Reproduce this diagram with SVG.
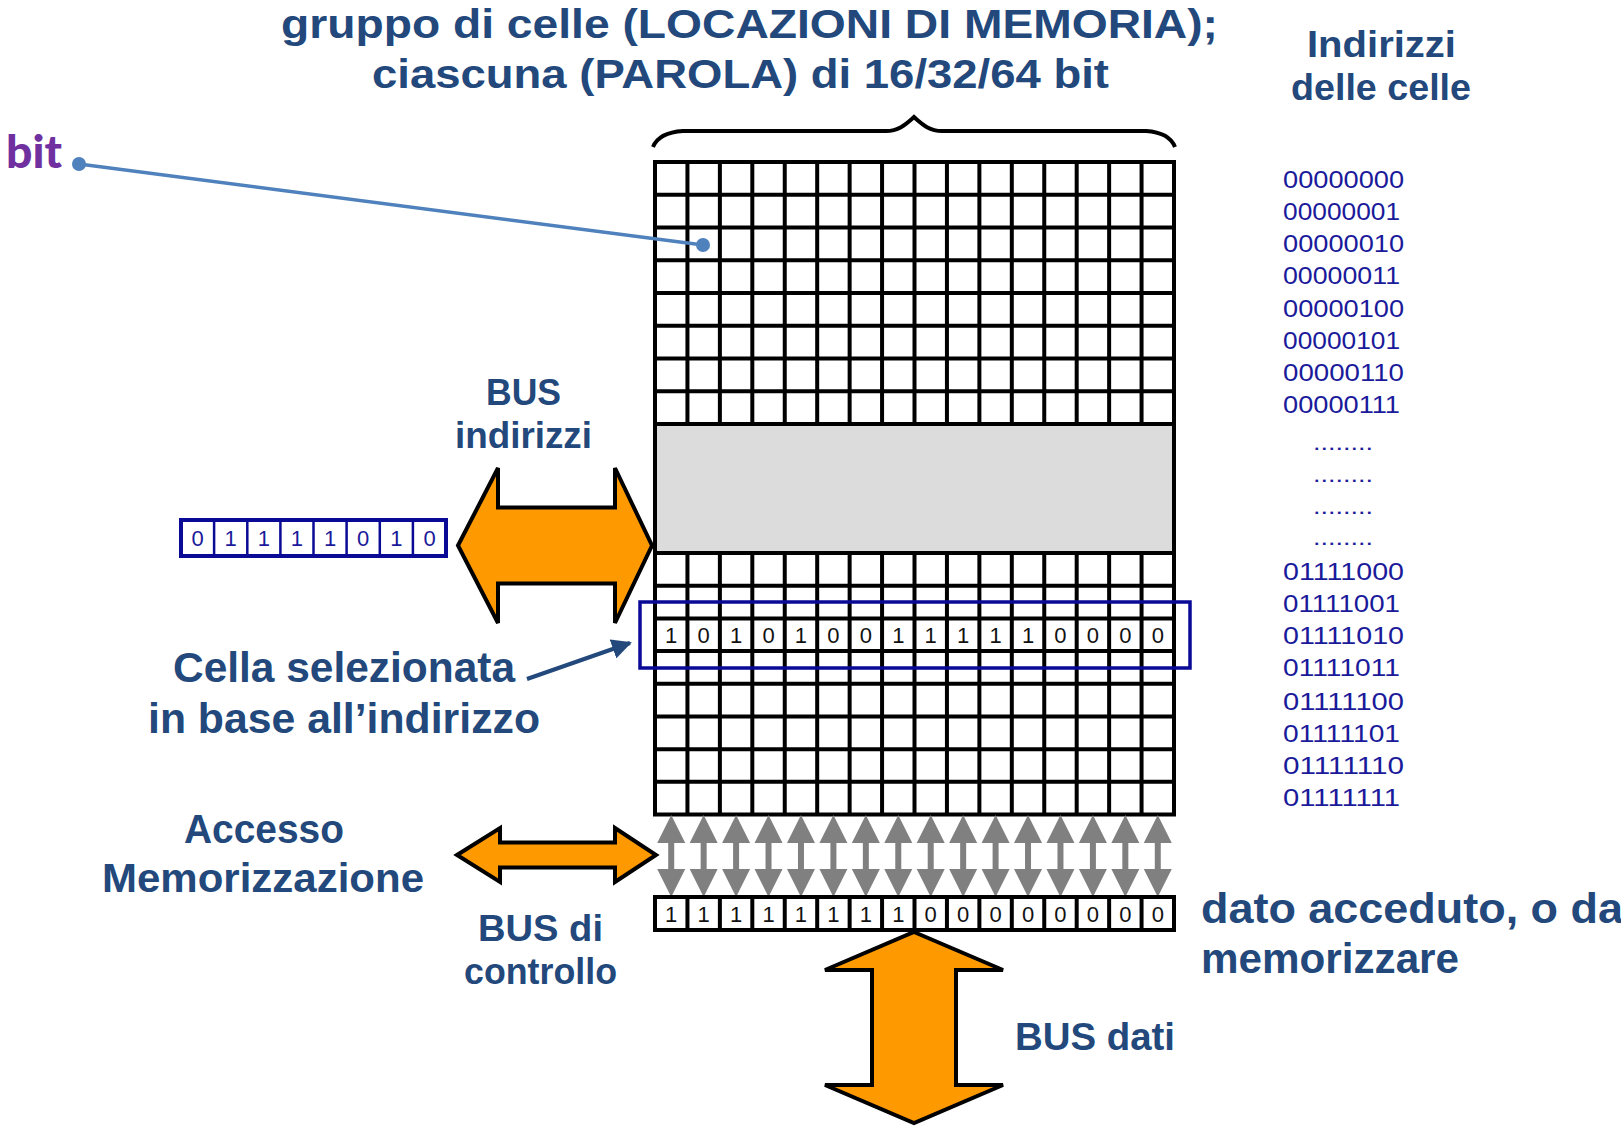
<svg xmlns="http://www.w3.org/2000/svg" width="1621" height="1128" viewBox="0 0 1621 1128">
  <style>
    .lbl { font-family: "Liberation Sans", Arial, sans-serif; font-weight: 700; fill: #22487c; }
    .grid { stroke: #000; stroke-width: 4; fill: none; }
    .cellnum { font-family: "Liberation Sans", Arial, sans-serif; font-size: 22px; fill: #111; text-anchor: middle; }
    .addr { font-family: "Liberation Sans", Arial, sans-serif; font-size: 24px; fill: #1a1a9a; }
    .dots { font-family: "Liberation Sans", Arial, sans-serif; font-size: 22px; fill: #1a1a9a; }
    .bus { fill: #ff9900; stroke: #000; stroke-width: 4; stroke-linejoin: miter; }
  </style>
  <defs>
    <!-- single double-headed gray arrow between a memory column and the data register -->
    <path id="cellArrow" d="M0,815 L14,843 L3,843 L3,869 L14,869 L0,897 L-14,869 L-3,869 L-3,843 L-14,843 Z" fill="#808080"/>
    <marker id="head" viewBox="0 0 10 10" refX="9" refY="5" markerWidth="5" markerHeight="5" orient="auto" markerUnits="strokeWidth">
      <path d="M0,0 L10,5 L0,10 Z" fill="#22487c"/>
    </marker>
  </defs>

  <rect width="1621" height="1128" fill="#fff"/>

  <!-- titles -->
  <g id="title">
    <text class="lbl" x="281" y="38" font-size="40" textLength="937" lengthAdjust="spacingAndGlyphs">gruppo di celle (LOCAZIONI DI MEMORIA);</text>
    <text class="lbl" x="372" y="88" font-size="40" textLength="737" lengthAdjust="spacingAndGlyphs">ciascuna (PAROLA) di 16/32/64 bit</text>
  </g>
  <g id="addr-title">
    <text class="lbl" x="1307" y="57" font-size="37" textLength="149" lengthAdjust="spacingAndGlyphs">Indirizzi</text>
    <text class="lbl" x="1291" y="100" font-size="37" textLength="180" lengthAdjust="spacingAndGlyphs">delle celle</text>
  </g>

  <!-- brace over the word width -->
  <path id="brace" d="M653,147 C657,137 667,132 683,131 L886,131 C899,131 906,124 914,117 C922,124 929,131 942,131 L1146,131 C1162,132 1171,137 1175,147" fill="none" stroke="#000" stroke-width="4"/>

  <!-- memory array -->
  <g id="memory">
    <rect x="655" y="162" width="519" height="652.5" fill="#fff"/>
    <g class="grid">
      <rect x="655" y="162" width="519" height="652.5"/>
      <path d="M687.44,162V814.5 M719.88,162V814.5 M752.31,162V814.5 M784.75,162V814.5 M817.19,162V814.5 M849.63,162V814.5 M882.06,162V814.5 M914.5,162V814.5 M946.94,162V814.5 M979.38,162V814.5 M1011.81,162V814.5 M1044.25,162V814.5 M1076.69,162V814.5 M1109.13,162V814.5 M1141.56,162V814.5"/>
      <path d="M655,194.75H1174 M655,227.5H1174 M655,260.25H1174 M655,293H1174 M655,325.75H1174 M655,358.5H1174 M655,391.25H1174"/>
      <path d="M655,585.69H1174 M655,618.38H1174 M655,651.06H1174 M655,683.75H1174 M655,716.44H1174 M655,749.13H1174 M655,781.81H1174"/>
    </g>
    <rect x="655" y="424" width="519" height="129" fill="#dcdcdc" stroke="#000" stroke-width="4"/>
    <!-- contents of the selected word -->
    <g id="selected-word">
      <text class="cellnum" x="671.22" y="643">1</text>
      <text class="cellnum" x="703.66" y="643">0</text>
      <text class="cellnum" x="736.09" y="643">1</text>
      <text class="cellnum" x="768.53" y="643">0</text>
      <text class="cellnum" x="800.97" y="643">1</text>
      <text class="cellnum" x="833.41" y="643">0</text>
      <text class="cellnum" x="865.84" y="643">0</text>
      <text class="cellnum" x="898.28" y="643">1</text>
      <text class="cellnum" x="930.72" y="643">1</text>
      <text class="cellnum" x="963.16" y="643">1</text>
      <text class="cellnum" x="995.59" y="643">1</text>
      <text class="cellnum" x="1028.03" y="643">1</text>
      <text class="cellnum" x="1060.47" y="643">0</text>
      <text class="cellnum" x="1092.91" y="643">0</text>
      <text class="cellnum" x="1125.34" y="643">0</text>
      <text class="cellnum" x="1157.78" y="643">0</text>
    </g>
    <rect x="640" y="602" width="550" height="66" fill="none" stroke="#0a0a96" stroke-width="3.5"/>
  </g>

  <!-- per-bit read/write arrows -->
  <g id="bit-lines">
    <use href="#cellArrow" x="671.22"/>
    <use href="#cellArrow" x="703.66"/>
    <use href="#cellArrow" x="736.09"/>
    <use href="#cellArrow" x="768.53"/>
    <use href="#cellArrow" x="800.97"/>
    <use href="#cellArrow" x="833.41"/>
    <use href="#cellArrow" x="865.84"/>
    <use href="#cellArrow" x="898.28"/>
    <use href="#cellArrow" x="930.72"/>
    <use href="#cellArrow" x="963.16"/>
    <use href="#cellArrow" x="995.59"/>
    <use href="#cellArrow" x="1028.03"/>
    <use href="#cellArrow" x="1060.47"/>
    <use href="#cellArrow" x="1092.91"/>
    <use href="#cellArrow" x="1125.34"/>
    <use href="#cellArrow" x="1157.78"/>
  </g>

  <!-- data register -->
  <g id="data-register">
    <rect x="655" y="897" width="519" height="33" fill="#fff"/>
    <g class="grid">
      <rect x="655" y="897" width="519" height="33"/>
      <path d="M687.44,897V930 M719.88,897V930 M752.31,897V930 M784.75,897V930 M817.19,897V930 M849.63,897V930 M882.06,897V930 M914.5,897V930 M946.94,897V930 M979.38,897V930 M1011.81,897V930 M1044.25,897V930 M1076.69,897V930 M1109.13,897V930 M1141.56,897V930"/>
    </g>
    <text class="cellnum" x="671.22" y="922">1</text>
    <text class="cellnum" x="703.66" y="922">1</text>
    <text class="cellnum" x="736.09" y="922">1</text>
    <text class="cellnum" x="768.53" y="922">1</text>
    <text class="cellnum" x="800.97" y="922">1</text>
    <text class="cellnum" x="833.41" y="922">1</text>
    <text class="cellnum" x="865.84" y="922">1</text>
    <text class="cellnum" x="898.28" y="922">1</text>
    <text class="cellnum" x="930.72" y="922">0</text>
    <text class="cellnum" x="963.16" y="922">0</text>
    <text class="cellnum" x="995.59" y="922">0</text>
    <text class="cellnum" x="1028.03" y="922">0</text>
    <text class="cellnum" x="1060.47" y="922">0</text>
    <text class="cellnum" x="1092.91" y="922">0</text>
    <text class="cellnum" x="1125.34" y="922">0</text>
    <text class="cellnum" x="1157.78" y="922">0</text>
  </g>

  <!-- address register -->
  <g id="address-register">
    <rect x="181" y="520" width="265" height="36" fill="#fff" stroke="#0a0a96" stroke-width="4"/>
    <path d="M214.1,520V556 M247.3,520V556 M280.4,520V556 M313.5,520V556 M346.6,520V556 M379.8,520V556 M412.9,520V556" stroke="#0a0a96" stroke-width="2.5"/>
    <g class="cellnum" style="fill:#1a1a9a">
      <text x="197.6" y="546">0</text>
      <text x="230.7" y="546">1</text>
      <text x="263.8" y="546">1</text>
      <text x="296.9" y="546">1</text>
      <text x="330.1" y="546">1</text>
      <text x="363.2" y="546">0</text>
      <text x="396.3" y="546">1</text>
      <text x="429.5" y="546">0</text>
    </g>
  </g>

  <!-- cell addresses -->
  <g id="addresses">
    <text class="addr" x="1283" y="188" textLength="121" lengthAdjust="spacingAndGlyphs">00000000</text>
    <text class="addr" x="1283" y="220" textLength="117" lengthAdjust="spacingAndGlyphs">00000001</text>
    <text class="addr" x="1283" y="252" textLength="121" lengthAdjust="spacingAndGlyphs">00000010</text>
    <text class="addr" x="1283" y="284" textLength="117" lengthAdjust="spacingAndGlyphs">00000011</text>
    <text class="addr" x="1283" y="317" textLength="121" lengthAdjust="spacingAndGlyphs">00000100</text>
    <text class="addr" x="1283" y="349" textLength="117" lengthAdjust="spacingAndGlyphs">00000101</text>
    <text class="addr" x="1283" y="381" textLength="121" lengthAdjust="spacingAndGlyphs">00000110</text>
    <text class="addr" x="1283" y="413" textLength="117" lengthAdjust="spacingAndGlyphs">00000111</text>
    <text class="dots" x="1313" y="450" textLength="60" lengthAdjust="spacingAndGlyphs">........</text>
    <text class="dots" x="1313" y="482" textLength="60" lengthAdjust="spacingAndGlyphs">........</text>
    <text class="dots" x="1313" y="514" textLength="60" lengthAdjust="spacingAndGlyphs">........</text>
    <text class="dots" x="1313" y="545" textLength="60" lengthAdjust="spacingAndGlyphs">........</text>
    <text class="addr" x="1283" y="580" textLength="121" lengthAdjust="spacingAndGlyphs">01111000</text>
    <text class="addr" x="1283" y="612" textLength="117" lengthAdjust="spacingAndGlyphs">01111001</text>
    <text class="addr" x="1283" y="644" textLength="121" lengthAdjust="spacingAndGlyphs">01111010</text>
    <text class="addr" x="1283" y="676" textLength="117" lengthAdjust="spacingAndGlyphs">01111011</text>
    <text class="addr" x="1283" y="710" textLength="121" lengthAdjust="spacingAndGlyphs">01111100</text>
    <text class="addr" x="1283" y="742" textLength="117" lengthAdjust="spacingAndGlyphs">01111101</text>
    <text class="addr" x="1283" y="774" textLength="121" lengthAdjust="spacingAndGlyphs">01111110</text>
    <text class="addr" x="1283" y="806" textLength="117" lengthAdjust="spacingAndGlyphs">01111111</text>
  </g>

  <!-- buses -->
  <g id="bus-indirizzi">
    <polygon class="bus" points="458,545.5 498,468 498,507.5 615,507.5 615,468 652,545.5 615,623 615,583.5 498,583.5 498,623"/>
    <text class="lbl" x="486" y="405" font-size="37" textLength="75" lengthAdjust="spacingAndGlyphs">BUS</text>
    <text class="lbl" x="455" y="448" font-size="37" textLength="137" lengthAdjust="spacingAndGlyphs">indirizzi</text>
  </g>
  <g id="bus-controllo">
    <polygon class="bus" points="457,855 500,828 500,842.5 615,842.5 615,828 656,855 615,882 615,867.5 500,867.5 500,882"/>
    <text class="lbl" x="184" y="843" font-size="41" textLength="160" lengthAdjust="spacingAndGlyphs">Accesso</text>
    <text class="lbl" x="102" y="892" font-size="41" textLength="322" lengthAdjust="spacingAndGlyphs">Memorizzazione</text>
    <text class="lbl" x="478" y="941" font-size="37" textLength="125" lengthAdjust="spacingAndGlyphs">BUS di</text>
    <text class="lbl" x="464" y="984" font-size="37" textLength="153" lengthAdjust="spacingAndGlyphs">controllo</text>
  </g>
  <g id="bus-dati">
    <polygon class="bus" points="914,932 1003,970 956,970 956,1085 1003,1085 914,1123 825,1085 872,1085 872,970 825,970"/>
    <text class="lbl" x="1015" y="1050" font-size="38" textLength="160" lengthAdjust="spacingAndGlyphs">BUS dati</text>
  </g>

  <g id="data-label">
    <text class="lbl" x="1201" y="923" font-size="42" textLength="422" lengthAdjust="spacingAndGlyphs">dato acceduto, o da</text>
    <text class="lbl" x="1201" y="973" font-size="42" textLength="258" lengthAdjust="spacingAndGlyphs">memorizzare</text>
  </g>

  <g id="selected-label">
    <text class="lbl" x="173" y="682" font-size="42" textLength="342" lengthAdjust="spacingAndGlyphs">Cella selezionata</text>
    <text class="lbl" x="148" y="733" font-size="42" textLength="392" lengthAdjust="spacingAndGlyphs">in base all’indirizzo</text>
  </g>

  <g id="bit-label">
    <text x="6" y="168" font-family="Lato, 'Open Sans', sans-serif" font-weight="900" font-size="46" fill="#7030a0" textLength="56" lengthAdjust="spacingAndGlyphs">bit</text>
  </g>

  <!-- connectors -->
  <g id="connectors">
    <line x1="79" y1="164" x2="703" y2="245" stroke="#4f81bd" stroke-width="3.5"/>
    <circle cx="79" cy="164" r="7" fill="#4f81bd"/>
    <circle cx="703" cy="245" r="7" fill="#4f81bd"/>
    <line x1="527" y1="679" x2="630" y2="643" stroke="#22487c" stroke-width="4" marker-end="url(#head)"/>
  </g>
</svg>
